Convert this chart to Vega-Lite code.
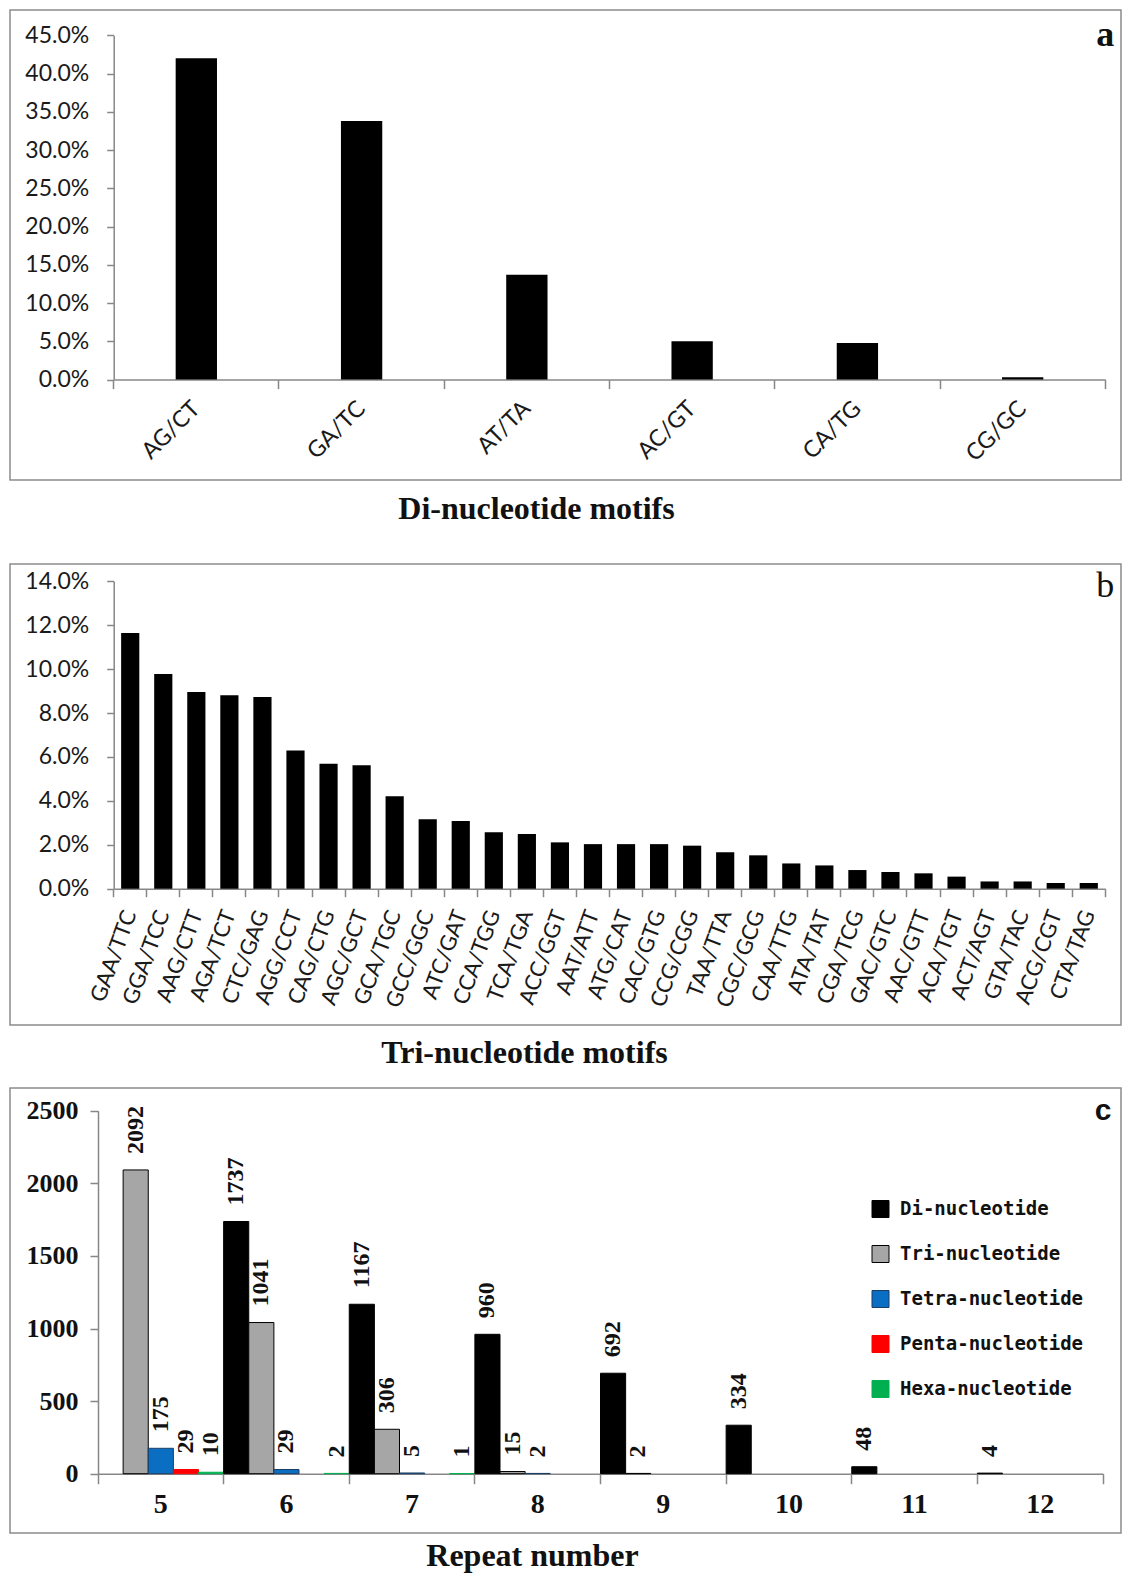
{
  "$schema": "https://vega.github.io/schema/vega-lite/v6.json",
  "padding": {"left": -2, "top": 9, "right": 0, "bottom": 0},
  "background": "white",
  "config": {
    "view": {"stroke": "#8c8c8c", "strokeWidth": 1.5},
    "axis": {"grid": false, "domainColor": "#878787", "tickColor": "#878787", "domainWidth": 1.5, "tickWidth": 1.5, "labelColor": "#1a1a1a"}
  },
  "datasets": {
    "di": [
      {"motif": "AG/CT", "share": 0.420},
      {"motif": "GA/TC", "share": 0.338},
      {"motif": "AT/TA", "share": 0.137},
      {"motif": "AC/GT", "share": 0.050},
      {"motif": "CA/TG", "share": 0.048},
      {"motif": "CG/GC", "share": 0.003}
    ],
    "tri": [
      {"motif": "GAA/TTC", "share": 0.1165},
      {"motif": "GGA/TCC", "share": 0.0978},
      {"motif": "AAG/CTT", "share": 0.0896},
      {"motif": "AGA/TCT", "share": 0.0881},
      {"motif": "CTC/GAG", "share": 0.0873},
      {"motif": "AGG/CCT", "share": 0.0629},
      {"motif": "CAG/CTG", "share": 0.0569},
      {"motif": "AGC/GCT", "share": 0.0562},
      {"motif": "GCA/TGC", "share": 0.0421},
      {"motif": "GCC/GGC", "share": 0.0316},
      {"motif": "ATC/GAT", "share": 0.0308},
      {"motif": "CCA/TGG", "share": 0.0257},
      {"motif": "TCA/TGA", "share": 0.0249},
      {"motif": "ACC/GGT", "share": 0.0211},
      {"motif": "AAT/ATT", "share": 0.0203},
      {"motif": "ATG/CAT", "share": 0.0203},
      {"motif": "CAC/GTG", "share": 0.0203},
      {"motif": "CCG/CGG", "share": 0.0196},
      {"motif": "TAA/TTA", "share": 0.0166},
      {"motif": "CGC/GCG", "share": 0.0152},
      {"motif": "CAA/TTG", "share": 0.0115},
      {"motif": "ATA/TAT", "share": 0.0106},
      {"motif": "CGA/TCG", "share": 0.0085},
      {"motif": "GAC/GTC", "share": 0.0076},
      {"motif": "AAC/GTT", "share": 0.0070},
      {"motif": "ACA/TGT", "share": 0.0055},
      {"motif": "ACT/AGT", "share": 0.0033},
      {"motif": "GTA/TAC", "share": 0.0033},
      {"motif": "ACG/CGT", "share": 0.0026},
      {"motif": "CTA/TAG", "share": 0.0026}
    ],
    "rep": [
      {"repeat": 5, "type": "Tri-nucleotide", "count": 2092},
      {"repeat": 5, "type": "Tetra-nucleotide", "count": 175},
      {"repeat": 5, "type": "Penta-nucleotide", "count": 29},
      {"repeat": 5, "type": "Hexa-nucleotide", "count": 10},
      {"repeat": 6, "type": "Di-nucleotide", "count": 1737},
      {"repeat": 6, "type": "Tri-nucleotide", "count": 1041},
      {"repeat": 6, "type": "Tetra-nucleotide", "count": 29},
      {"repeat": 6, "type": "Hexa-nucleotide", "count": 2},
      {"repeat": 7, "type": "Di-nucleotide", "count": 1167},
      {"repeat": 7, "type": "Tri-nucleotide", "count": 306},
      {"repeat": 7, "type": "Tetra-nucleotide", "count": 5},
      {"repeat": 7, "type": "Hexa-nucleotide", "count": 1},
      {"repeat": 8, "type": "Di-nucleotide", "count": 960},
      {"repeat": 8, "type": "Tri-nucleotide", "count": 15},
      {"repeat": 8, "type": "Tetra-nucleotide", "count": 2},
      {"repeat": 9, "type": "Di-nucleotide", "count": 692},
      {"repeat": 9, "type": "Tri-nucleotide", "count": 2},
      {"repeat": 10, "type": "Di-nucleotide", "count": 334},
      {"repeat": 11, "type": "Di-nucleotide", "count": 48},
      {"repeat": 12, "type": "Di-nucleotide", "count": 4}
    ]
  },
  "spacing": 37,
  "vconcat": [
    {
      "width": 1111,
      "height": 470,
      "title": {"text": "Di-nucleotide motifs", "orient": "bottom", "anchor": "middle", "offset": 14, "dx": -29, "font": "Liberation Serif", "fontSize": 32, "fontWeight": "bold", "color": "#111111"},
      "layer": [
        {
          "data": {"name": "di"},
          "mark": {"type": "bar", "color": "#000000", "width": {"band": 0.25}},
          "encoding": {
            "x": {"field": "motif", "type": "nominal", "sort": null,
              "scale": {"range": [103.7, 1095.3], "paddingInner": 0, "paddingOuter": 0},
              "axis": {"title": null, "offset": -100.4, "bandPosition": 1, "tickExtra": true, "tickSize": 9, "labelAngle": -45, "labelAlign": "right", "labelBaseline": "middle", "labelPadding": 16, "labelFont": "Lato", "labelFontSize": 23}},
            "y": {"field": "share", "type": "quantitative",
              "scale": {"domain": [0, 0.45], "range": [369.6, 25.4], "nice": false},
              "axis": {"title": null, "offset": -103.7, "values": [0, 0.05, 0.1, 0.15, 0.2, 0.25, 0.3, 0.35, 0.4, 0.45], "format": ".1%", "tickSize": 7, "labelPadding": 18, "labelFont": "Lato", "labelFontSize": 23}}
          }
        },
        {
          "data": {"values": [{}]},
          "mark": {"type": "text", "text": "a", "font": "Liberation Serif", "fontSize": 36, "fontWeight": "bold", "align": "center", "baseline": "middle", "color": "#111111"},
          "encoding": {"x": {"datum": "CG/GC", "type": "nominal", "bandPosition": 1}, "y": {"datum": 0.45, "type": "quantitative"}}
        }
      ]
    },
    {
      "spacing": 17,
      "vconcat": [
        {
          "width": 1111,
          "height": 461,
          "title": {"text": "Tri-nucleotide motifs", "orient": "bottom", "anchor": "middle", "offset": 13, "dx": -41, "font": "Liberation Serif", "fontSize": 32, "fontWeight": "bold", "color": "#111111"},
          "layer": [
            {
              "data": {"name": "tri"},
              "mark": {"type": "bar", "color": "#000000", "width": {"band": 0.55}},
              "encoding": {
                "x": {"field": "motif", "type": "nominal", "sort": null,
                  "scale": {"range": [103.7, 1095.3], "paddingInner": 0, "paddingOuter": 0},
                  "axis": {"title": null, "offset": -136.3, "bandPosition": 1, "tickExtra": true, "tickSize": 8, "labelAngle": -70, "labelAlign": "right", "labelBaseline": "middle", "labelPadding": 14, "labelFont": "Lato", "labelFontSize": 22}},
                "y": {"field": "share", "type": "quantitative",
                  "scale": {"domain": [0, 0.14], "range": [324.7, 17.3], "nice": false},
                  "axis": {"title": null, "offset": -103.7, "values": [0, 0.02, 0.04, 0.06, 0.08, 0.1, 0.12, 0.14], "format": ".1%", "tickSize": 7, "labelPadding": 18, "labelFont": "Lato", "labelFontSize": 23}}
              }
            },
            {
              "data": {"values": [{}]},
              "mark": {"type": "text", "text": "b", "font": "Liberation Serif", "fontSize": 36, "align": "center", "baseline": "middle", "dy": 5, "color": "#111111"},
              "encoding": {"x": {"datum": "CTA/TAG", "type": "nominal", "bandPosition": 1}, "y": {"datum": 0.14, "type": "quantitative"}}
            }
          ]
        },
        {
          "width": 1111,
          "height": 445,
          "title": {"text": "Repeat number", "orient": "bottom", "anchor": "middle", "offset": 8, "dx": -33, "font": "Liberation Serif", "fontSize": 32, "fontWeight": "bold", "color": "#111111"},
          "layer": [
            {
              "data": {"name": "rep"},
              "mark": {"type": "bar", "strokeWidth": 1},
              "encoding": {
                "x": {"field": "repeat", "type": "ordinal",
                  "scale": {"range": [88, 1093], "paddingInner": 0, "paddingOuter": 0},
                  "axis": {"title": null, "offset": -59.3, "bandPosition": 1, "tickExtra": true, "tickSize": 10, "labelAngle": 0, "labelPadding": 7, "labelFont": "Liberation Serif", "labelFontWeight": "bold", "labelFontSize": 28, "labelColor": "#111111"}},
                "xOffset": {"field": "type", "type": "nominal",
                  "scale": {"domain": ["Di-nucleotide", "Tri-nucleotide", "Tetra-nucleotide", "Penta-nucleotide", "Hexa-nucleotide"], "paddingInner": 0, "paddingOuter": 0}},
                "y": {"field": "count", "type": "quantitative",
                  "scale": {"domain": [0, 2500], "range": [385.7, 22.7], "nice": false},
                  "axis": {"title": null, "offset": -88, "values": [0, 500, 1000, 1500, 2000, 2500], "format": "d", "tickSize": 8, "labelPadding": 12, "labelFont": "Liberation Serif", "labelFontWeight": "bold", "labelFontSize": 26, "labelColor": "#111111"}},
                "fill": {"field": "type", "type": "nominal",
                  "scale": {"domain": ["Di-nucleotide", "Tri-nucleotide", "Tetra-nucleotide", "Penta-nucleotide", "Hexa-nucleotide"], "range": ["#000000", "#a6a6a6", "#0a6fc2", "#ff0000", "#00b050"]},
                  "legend": {"orient": "none", "legendX": 861, "legendY": 1189.5, "title": null, "padding": 0, "symbolType": "square", "symbolSize": 289, "symbolStrokeWidth": 1, "labelFont": "DejaVu Sans Mono", "labelFontSize": 19, "labelFontWeight": "bold", "labelColor": "#111111", "labelOffset": 10, "labelLimit": 0, "rowPadding": 24}},
                "stroke": {"field": "type", "type": "nominal",
                  "scale": {"domain": ["Di-nucleotide", "Tri-nucleotide", "Tetra-nucleotide", "Penta-nucleotide", "Hexa-nucleotide"], "range": ["#000000", "#000000", "#1b3d66", "#ff0000", "#00b050"]}}
              }
            },
            {
              "data": {"name": "rep"},
              "mark": {"type": "text", "angle": 270, "align": "left", "baseline": "middle", "dx": 16, "font": "Liberation Serif", "fontWeight": "bold", "fontSize": 24, "color": "#111111"},
              "encoding": {
                "x": {"field": "repeat", "type": "ordinal"},
                "xOffset": {"field": "type", "type": "nominal"},
                "y": {"field": "count", "type": "quantitative"},
                "text": {"field": "count", "type": "quantitative"}
              }
            },
            {
              "data": {"values": [{}]},
              "mark": {"type": "text", "text": "c", "font": "Liberation Sans", "fontSize": 30, "fontWeight": "bold", "align": "center", "baseline": "middle", "color": "#111111"},
              "encoding": {"x": {"datum": 12, "type": "ordinal", "bandPosition": 1}, "y": {"datum": 2500, "type": "quantitative"}}
            }
          ]
        }
      ]
    }
  ]
}
